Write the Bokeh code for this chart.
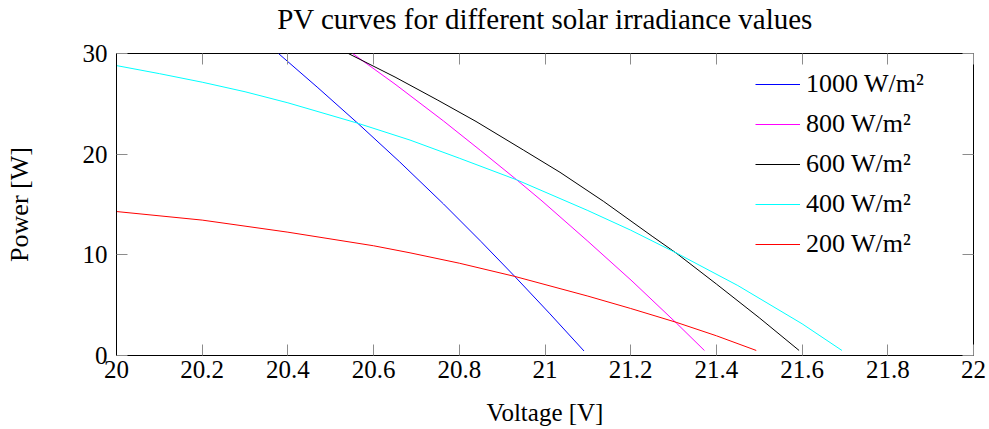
from bokeh.plotting import figure
from bokeh.models import (LinearAxis, Range1d, Legend, LegendItem, FixedTicker,
                          CustomLabelingPolicy)
from bokeh.embed import file_html
from bokeh.resources import INLINE

# PV curves: voltage [V] and power [W] per irradiance level
v_1000 = [20.378, 20.47, 20.561, 20.66, 20.763, 20.85, 20.93, 21.01, 21.091]
p_1000 = [30.0, 26.6, 23.15, 19.27, 15.06, 11.35, 7.83, 4.21, 0.45]

v_800 = [20.551, 20.65, 20.763, 20.85, 20.934, 20.993, 21.1, 21.203, 21.306, 21.372]
p_800 = [30.0, 26.96, 23.3, 20.35, 17.45, 15.35, 11.35, 7.4, 3.25, 0.5]

v_600 = [20.541, 20.65, 20.75, 20.839, 20.95, 21.035, 21.137, 21.25, 21.308, 21.4, 21.5, 21.593]
p_600 = [30.0, 27.66, 25.36, 23.25, 20.4, 18.2, 15.3, 11.85, 10.12, 7.1, 3.75, 0.5]

v_400 = [20.0, 20.1, 20.2, 20.3, 20.4, 20.561, 20.685, 20.8, 20.934, 21.1, 21.2, 21.308, 21.45, 21.6, 21.693]
p_400 = [28.8, 28.0, 27.15, 26.2, 25.1, 23.1, 21.4, 19.6, 17.45, 14.4, 12.45, 10.15, 6.95, 3.15, 0.5]

v_200 = [20.0, 20.2, 20.4, 20.6, 20.685, 20.8, 20.93, 21.1, 21.2, 21.306, 21.4, 21.493]
p_200 = [14.3, 13.45, 12.25, 10.9, 10.2, 9.17, 7.85, 5.9, 4.67, 3.3, 1.96, 0.5]

series_labels = ["1000 W/m\u00b2", "800 W/m\u00b2", "600 W/m\u00b2", "400 W/m\u00b2", "200 W/m\u00b2"]
series_colors = ["#0000ff", "#ff00ff", "#000000", "#00ffff", "#ff0000"]

x_ticks = [20, 20.2, 20.4, 20.6, 20.8, 21, 21.2, 21.4, 21.6, 21.8, 22]
x_tick_labels = ["20", "20.2", "20.4", "20.6", "20.8", "21", "21.2", "21.4", "21.6", "21.8", "22"]
y_ticks = [0, 10, 20, 30]

FONT = "Liberation Serif"
FS = "25px"
TICK_COLOR = "#8c8c8c"

p = figure(
    width=989, height=429,
    x_range=Range1d(20, 22), y_range=Range1d(0, 30),
    output_backend="svg", toolbar_location=None,
    min_border_left=116, min_border_right=16,
    min_border_top=53, min_border_bottom=74,
    title="PV curves for different solar irradiance values",
)
p.title.text_font = FONT
p.title.text_font_size = "29px"
p.title.text_font_style = "normal"
p.title.align = "center"
p.title.text_color = "black"
p.title.standoff = 0

p.xgrid.visible = False
p.ygrid.visible = False
p.outline_line_color = "black"
p.outline_line_width = 1
p.outline_line_alpha = 1.0
p.background_fill_color = "white"
p.border_fill_color = "white"

def style_axis(ax, ticks):
    ax.ticker = FixedTicker(ticks=ticks)
    ax.major_tick_in = 11
    ax.major_tick_out = 0
    ax.major_tick_line_color = TICK_COLOR
    ax.minor_tick_line_color = None
    ax.axis_line_color = "black"
    ax.major_label_text_font = FONT
    ax.major_label_text_font_size = FS
    ax.major_label_text_color = "black"
    ax.axis_label_text_font = FONT
    ax.axis_label_text_font_size = FS
    ax.axis_label_text_font_style = "normal"
    ax.axis_label_text_color = "black"

def hide_labels(ax):
    ax.axis_line_color = None
    ax.major_label_text_font_size = "0px"
    ax.major_label_standoff = 0
    ax.major_label_policy = CustomLabelingPolicy(code="return []")

xa = p.xaxis[0]
style_axis(xa, x_ticks)
xa.major_label_overrides = {t: s for t, s in zip(x_ticks, x_tick_labels)}
xa.major_label_standoff = 5
xa.axis_label = "Voltage [V]"
xa.axis_label_standoff = 18

ya = p.yaxis[0]
style_axis(ya, y_ticks)
ya.axis_label_text_font_size = "26px"
ya.major_label_standoff = 9
ya.axis_label = "Power [W]"
ya.axis_label_standoff = 46

# mirrored tick marks on the top and right edges, without labels
for side, ticks in (("above", x_ticks), ("right", y_ticks)):
    ax = LinearAxis()
    style_axis(ax, ticks)
    hide_labels(ax)
    p.add_layout(ax, side)

# blank strip that keeps the title clear of the frame
gap_axis = LinearAxis()
style_axis(gap_axis, x_ticks)
hide_labels(gap_axis)
gap_axis.major_tick_line_color = None
gap_axis.major_tick_in = 0
gap_axis.major_tick_out = 19
p.add_layout(gap_axis, "above")

data = [(v_1000, p_1000), (v_800, p_800), (v_600, p_600), (v_400, p_400), (v_200, p_200)]
items = []
for (vs, ps), label, color in zip(data, series_labels, series_colors):
    r = p.line(vs, ps, line_color=color, line_width=1)
    items.append(LegendItem(label=label, renderers=[r]))

legend = Legend(
    items=items,
    location=(639, 96),
    border_line_color=None,
    background_fill_color="white",
    background_fill_alpha=1.0,
    padding=0, margin=0,
    spacing=10,
    glyph_width=45, glyph_height=30,
    label_height=30,
    label_standoff=6,
    label_text_font=FONT,
    label_text_font_size="26px",
    label_text_color="black",
)
p.add_layout(legend)

open("out.html", "w").write(file_html(p, INLINE))
